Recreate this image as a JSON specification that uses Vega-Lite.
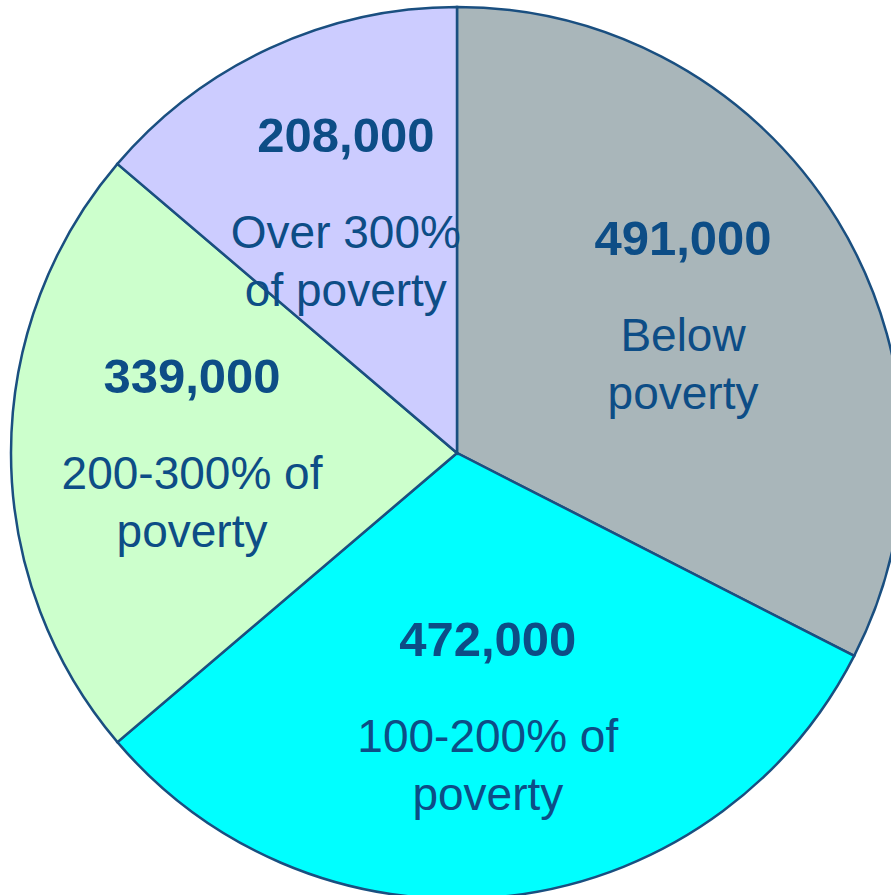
{
  "$schema": "https://vega.github.io/schema/vega-lite/v6.json",
  "width": 914,
  "height": 906,
  "autosize": "none",
  "padding": 0,
  "background": "white",
  "config": {"view": {"stroke": null}},
  "data": {
    "values": [
      {"category": "Below poverty", "label": "Below\npoverty", "value": 491000, "rank": 1},
      {"category": "100-200% of poverty", "label": "100-200% of\npoverty", "value": 472000, "rank": 2},
      {"category": "200-300% of poverty", "label": "200-300% of\npoverty", "value": 339000, "rank": 3},
      {"category": "Over 300% of poverty", "label": "Over 300%\nof poverty", "value": 208000, "rank": 4}
    ]
  },
  "encoding": {
    "theta": {"field": "value", "type": "quantitative", "stack": true},
    "order": {"field": "rank", "type": "quantitative"}
  },
  "layer": [
    {
      "mark": {"type": "arc", "radius": 446, "stroke": "#1A4F80", "strokeWidth": 2.5},
      "encoding": {
        "color": {
          "field": "category",
          "type": "nominal",
          "scale": {
            "domain": ["Below poverty", "100-200% of poverty", "200-300% of poverty", "Over 300% of poverty"],
            "range": ["#A9B6BA", "#00FFFF", "#CCFFCC", "#CCCCFF"]
          },
          "legend": null
        }
      }
    },
    {
      "mark": {"type": "text", "radius": 265, "dy": -60, "baseline": "alphabetic", "align": "center", "font": "Liberation Sans", "fontSize": 49, "fontWeight": "bold", "color": "#0D4D86"},
      "encoding": {
        "text": {"field": "value", "type": "quantitative", "format": ",d"}
      }
    },
    {
      "mark": {"type": "text", "radius": 265, "dy": 36, "baseline": "alphabetic", "align": "center", "lineBreak": "\n", "lineHeight": 58, "font": "Liberation Sans", "fontSize": 46, "color": "#0D4D86"},
      "encoding": {
        "text": {"field": "label", "type": "nominal"}
      }
    }
  ]
}
